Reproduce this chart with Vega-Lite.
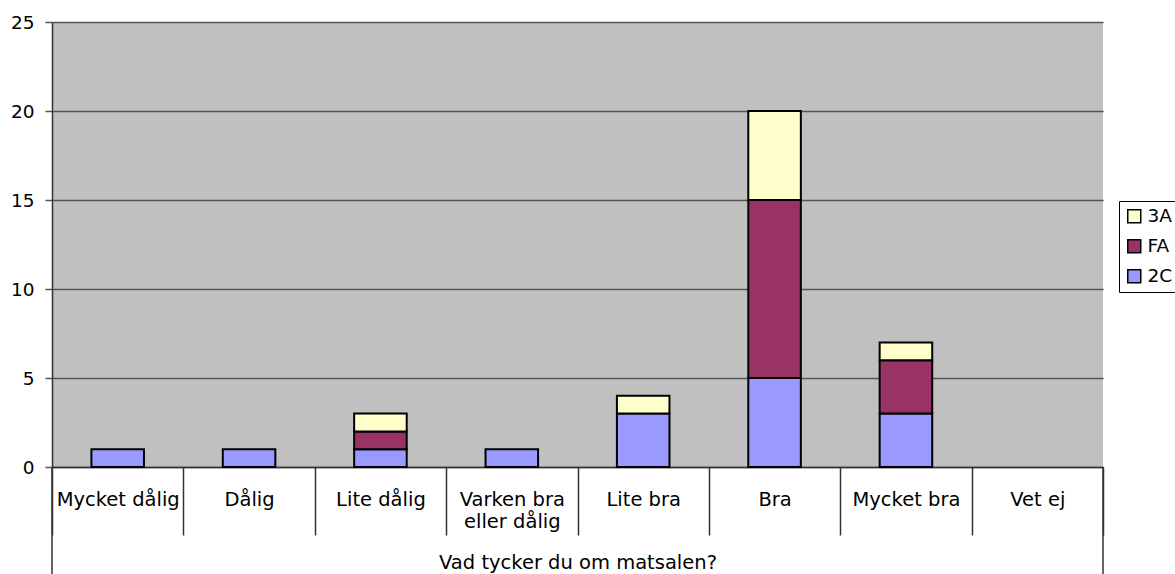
{
  "$schema": "https://vega.github.io/schema/vega-lite/v6.json",
  "width": 1051,
  "height": 445,
  "autosize": {"type": "none"},
  "padding": {"left": 52, "top": 22, "right": 72, "bottom": 107},
  "background": "white",
  "config": {
    "view": {"fill": "#C0C0C0", "stroke": null},
    "font": "DejaVu Sans"
  },
  "data": {
    "values": [
      {"svar": "Mycket dålig", "klass": "2C", "k": 1, "antal": 1},
      {"svar": "Dålig", "klass": "2C", "k": 1, "antal": 1},
      {"svar": "Lite dålig", "klass": "2C", "k": 1, "antal": 1},
      {"svar": "Lite dålig", "klass": "FA", "k": 2, "antal": 1},
      {"svar": "Lite dålig", "klass": "3A", "k": 3, "antal": 1},
      {"svar": "Varken bra eller dålig", "klass": "2C", "k": 1, "antal": 1},
      {"svar": "Lite bra", "klass": "2C", "k": 1, "antal": 3},
      {"svar": "Lite bra", "klass": "3A", "k": 3, "antal": 1},
      {"svar": "Bra", "klass": "2C", "k": 1, "antal": 5},
      {"svar": "Bra", "klass": "FA", "k": 2, "antal": 10},
      {"svar": "Bra", "klass": "3A", "k": 3, "antal": 5},
      {"svar": "Mycket bra", "klass": "2C", "k": 1, "antal": 3},
      {"svar": "Mycket bra", "klass": "FA", "k": 2, "antal": 3},
      {"svar": "Mycket bra", "klass": "3A", "k": 3, "antal": 1}
    ]
  },
  "layer": [
    {
      "mark": {"type": "bar", "stroke": "black", "strokeWidth": 2, "width": {"band": 0.4}},
      "encoding": {
        "x": {
          "field": "svar",
          "type": "nominal",
          "scale": {
            "domain": ["Mycket dålig", "Dålig", "Lite dålig", "Varken bra eller dålig", "Lite bra", "Bra", "Mycket bra", "Vet ej"],
            "paddingInner": 0,
            "paddingOuter": 0
          },
          "axis": {
            "title": "Vad tycker du om matsalen?",
            "titleFont": "DejaVu Sans",
            "titleFontSize": 19.5,
            "titleFontWeight": "normal",
            "titleColor": "black",
            "titleY": 101,
            "titleBaseline": "alphabetic",
            "labelAngle": 0,
            "labelFont": "DejaVu Sans",
            "labelFontSize": 19.5,
            "labelColor": "black",
            "labelBaseline": "alphabetic",
            "labelPadding": -30,
            "labelLineHeight": 22,
            "labelExpr": "datum.label == 'Varken bra eller dålig' ? ['Varken bra', 'eller dålig'] : datum.label",
            "tickBand": "extent",
            "tickSize": 68,
            "tickColor": "#333333",
            "tickWidth": 1.5,
            "domainColor": "#333333",
            "domainWidth": 1.5,
            "labelOverlap": false
          }
        },
        "y": {
          "field": "antal",
          "type": "quantitative",
          "stack": "zero",
          "scale": {"domain": [0, 25], "nice": false},
          "axis": {
            "title": null,
            "values": [0, 5, 10, 15, 20, 25],
            "labelFont": "DejaVu Sans",
            "labelFontSize": 18.5,
            "labelColor": "black",
            "labelPadding": 11,
            "tickSize": 7,
            "tickColor": "#555555",
            "tickWidth": 1.5,
            "domainColor": "#333333",
            "domainWidth": 1.5,
            "grid": true,
            "gridColor": "#555555",
            "gridWidth": 1.5
          }
        },
        "color": {
          "field": "klass",
          "type": "nominal",
          "scale": {"domain": ["3A", "FA", "2C"], "range": ["#FFFFCC", "#993366", "#9999FF"]},
          "legend": {
            "title": null,
            "orient": "none",
            "legendX": 1067,
            "legendY": 179,
            "padding": 6,
            "strokeColor": "black",
            "fillColor": "white",
            "symbolType": "square",
            "symbolSize": 169,
            "symbolStrokeColor": "black",
            "symbolStrokeWidth": 1.5,
            "symbolOpacity": 1,
            "labelFont": "DejaVu Sans",
            "labelFontSize": 18.5,
            "labelColor": "black",
            "labelOffset": 4,
            "rowPadding": 10
          }
        },
        "order": {"field": "k", "type": "quantitative"}
      }
    },
    {
      "data": {"values": [{}]},
      "mark": {"type": "rule", "color": "#333333", "strokeWidth": 1.5},
      "encoding": {
        "x": {"datum": "Mycket dålig", "bandPosition": 0},
        "y": {"datum": 0},
        "y2": {"datum": -6.1}
      }
    },
    {
      "data": {"values": [{}]},
      "mark": {"type": "rule", "color": "#333333", "strokeWidth": 1.5},
      "encoding": {
        "x": {"datum": "Vet ej", "bandPosition": 1},
        "y": {"datum": 0},
        "y2": {"datum": -6.1}
      }
    }
  ]
}
